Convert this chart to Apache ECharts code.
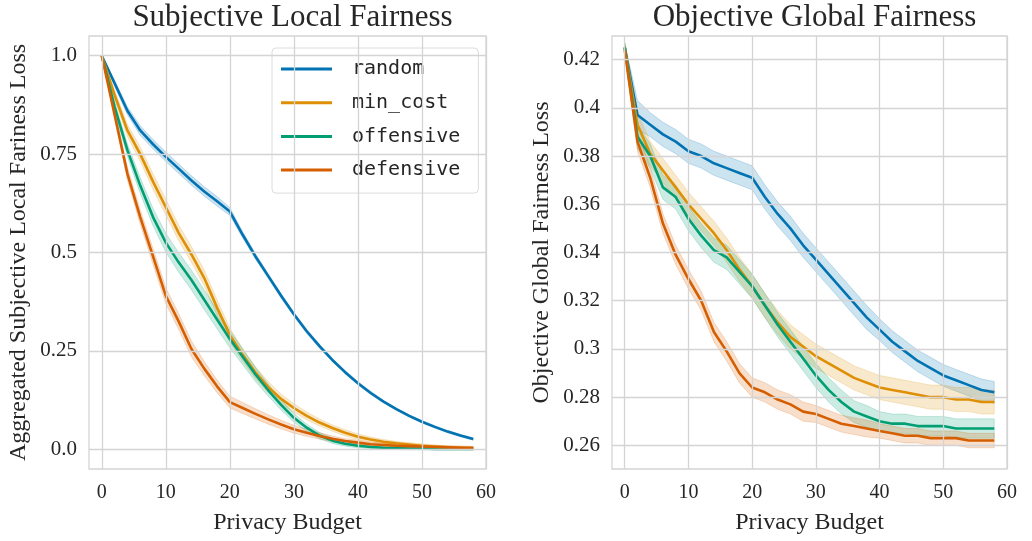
<!DOCTYPE html>
<html>
<head>
<meta charset="utf-8">
<script src="https://cdn.jsdelivr.net/npm/echarts@6/dist/echarts.min.js"></script>
<style>
html, body { margin: 0; background: #fff; }
#chart { width: 1032px; height: 541px; }
</style>
</head>
<body>
<div id="chart"></div>
<script>
var budget = [0,2,4,6,8,10,12,14,16,18,20,22,24,26,28,30,32,34,36,38,40,42,44,46,48,50,52,54,56,58];
var names = ['random', 'min_cost', 'offensive', 'defensive'];
var colors = ['#0173b2', '#de8f05', '#029e73', '#d55e00'];

var xTicks = [0, 10, 20, 30, 40, 50, 60];
var localTicks = [0, 0.25, 0.5, 0.75, 1.0];
var localTickLabels = ['0.0', '0.25', '0.5', '0.75', '1.0'];
var globalTicks = [0.26, 0.28, 0.30, 0.32, 0.34, 0.36, 0.38, 0.40, 0.42];
var globalTickLabels = ['0.26', '0.28', '0.3', '0.32', '0.34', '0.36', '0.38', '0.4', '0.42'];

// Subjective local fairness (left)
var localRandom    = [1.0,0.93,0.86,0.81,0.775,0.743,0.713,0.683,0.655,0.63,0.604,0.545,0.49,0.44,0.39,0.343,0.300,0.262,0.227,0.196,0.168,0.143,0.121,0.102,0.085,0.070,0.057,0.045,0.035,0.026];
var localMinCost   = [1.0,0.90,0.81,0.75,0.68,0.615,0.55,0.495,0.435,0.36,0.29,0.24,0.195,0.158,0.128,0.105,0.085,0.068,0.054,0.042,0.032,0.025,0.019,0.015,0.012,0.009,0.007,0.005,0.004,0.003];
var localOffensive = [1.0,0.87,0.76,0.67,0.59,0.525,0.475,0.43,0.38,0.33,0.28,0.235,0.19,0.15,0.113,0.08,0.055,0.035,0.022,0.014,0.009,0.006,0.004,0.003,0.002,0.002,0.001,0.001,0.001,0.001];
var localDefensive = [1.0,0.85,0.70,0.59,0.49,0.39,0.325,0.255,0.205,0.16,0.12,0.105,0.09,0.076,0.063,0.051,0.042,0.034,0.027,0.021,0.017,0.013,0.011,0.009,0.008,0.007,0.006,0.005,0.004,0.003];

var localRandomSd    = [0,0.008,0.01,0.012,0.012,0.012,0.012,0.012,0.012,0.012,0.01,0.008,0.007,0.006,0.006,0.005,0.005,0.005,0.004,0.004,0.004,0.004,0.003,0.003,0.003,0.003,0.003,0.003,0.003,0.003];
var localMinCostSd   = [0,0.012,0.015,0.018,0.02,0.02,0.02,0.02,0.02,0.02,0.018,0.016,0.015,0.014,0.012,0.011,0.01,0.009,0.008,0.008,0.007,0.006,0.006,0.005,0.005,0.005,0.004,0.004,0.004,0.004];
var localOffensiveSd = [0,0.012,0.016,0.02,0.022,0.024,0.025,0.025,0.025,0.024,0.022,0.02,0.018,0.015,0.013,0.011,0.009,0.008,0.007,0.006,0.005,0.004,0.004,0.003,0.003,0.003,0.003,0.003,0.003,0.003];
var localDefensiveSd = [0,0.012,0.016,0.018,0.02,0.02,0.02,0.02,0.018,0.016,0.015,0.014,0.013,0.012,0.011,0.01,0.009,0.008,0.007,0.006,0.006,0.005,0.005,0.005,0.004,0.004,0.004,0.004,0.004,0.004];

// Objective global fairness (right)
var globalRandom    = [0.425,0.397,0.393,0.389,0.386,0.382,0.380,0.377,0.375,0.373,0.371,0.363,0.356,0.350,0.343,0.337,0.331,0.325,0.319,0.313,0.308,0.303,0.299,0.295,0.292,0.289,0.287,0.285,0.283,0.282];
var globalMinCost   = [0.425,0.393,0.381,0.374,0.367,0.360,0.354,0.348,0.341,0.333,0.326,0.318,0.311,0.305,0.301,0.297,0.294,0.291,0.288,0.286,0.284,0.283,0.282,0.281,0.280,0.280,0.279,0.279,0.278,0.278];
var globalOffensive = [0.425,0.388,0.380,0.367,0.363,0.354,0.347,0.341,0.338,0.332,0.326,0.318,0.310,0.303,0.296,0.289,0.283,0.278,0.274,0.272,0.270,0.269,0.269,0.268,0.268,0.268,0.267,0.267,0.267,0.267];
var globalDefensive = [0.424,0.386,0.371,0.352,0.339,0.329,0.320,0.307,0.299,0.290,0.284,0.282,0.279,0.277,0.274,0.273,0.271,0.269,0.268,0.267,0.266,0.265,0.264,0.264,0.263,0.263,0.263,0.262,0.262,0.262];

var globalRandomSd    = [0.002,0.006,0.005,0.005,0.005,0.005,0.005,0.005,0.005,0.005,0.005,0.005,0.005,0.005,0.005,0.005,0.005,0.005,0.005,0.005,0.0045,0.0045,0.0045,0.0045,0.0045,0.0045,0.0045,0.0045,0.0045,0.0045];
var globalMinCostSd   = [0.002,0.005,0.005,0.005,0.005,0.005,0.005,0.005,0.005,0.005,0.005,0.005,0.005,0.005,0.005,0.005,0.005,0.005,0.005,0.005,0.005,0.005,0.005,0.005,0.005,0.005,0.005,0.005,0.005,0.005];
var globalOffensiveSd = [0.002,0.005,0.005,0.005,0.005,0.005,0.005,0.005,0.005,0.005,0.005,0.005,0.005,0.005,0.005,0.005,0.005,0.005,0.0045,0.0045,0.004,0.004,0.004,0.004,0.004,0.004,0.004,0.004,0.004,0.004];
var globalDefensiveSd = [0.002,0.004,0.004,0.004,0.004,0.004,0.004,0.004,0.004,0.004,0.004,0.004,0.004,0.004,0.004,0.0035,0.0035,0.0035,0.0035,0.0035,0.003,0.003,0.003,0.003,0.003,0.003,0.003,0.003,0.003,0.003];

var localVals = [localRandom, localMinCost, localOffensive, localDefensive];
var localSds = [localRandomSd, localMinCostSd, localOffensiveSd, localDefensiveSd];
var globalVals = [globalRandom, globalMinCost, globalOffensive, globalDefensive];
var globalSds = [globalRandomSd, globalMinCostSd, globalOffensiveSd, globalDefensiveSd];

var serif = 'Liberation Serif';
var textColor = '#262626';
var gridColor = '#d4d4d4';

function bandSeries(gi, color, vals, sd) {
    return {
        type: 'custom',
        xAxisIndex: gi,
        yAxisIndex: gi,
        silent: true,
        z: 2,
        data: [[budget[0], vals[0]]],
        renderItem: function (params, api) {
            var upper = [], lower = [];
            for (var i = 0; i < budget.length; i++) {
                upper.push(api.coord([budget[i], vals[i] + sd[i]]));
                lower.unshift(api.coord([budget[i], vals[i] - sd[i]]));
            }
            return {
                type: 'polygon',
                shape: { points: upper.concat(lower) },
                style: { fill: color, stroke: color, lineWidth: 1, opacity: 0.2 }
            };
        }
    };
}

function lineSeries(gi, name, color, vals) {
    return {
        name: name,
        type: 'line',
        xAxisIndex: gi,
        yAxisIndex: gi,
        symbol: 'none',
        z: 3,
        lineStyle: { width: 2.6, color: color },
        itemStyle: { color: color },
        emphasis: { disabled: true },
        data: budget.map(function (x, i) { return [x, vals[i]]; })
    };
}

function gridLines(gi, yTicks) {
    return {
        type: 'line',
        xAxisIndex: gi,
        yAxisIndex: gi,
        data: [],
        z: 1,
        silent: true,
        markLine: {
            silent: true,
            symbol: ['none', 'none'],
            label: { show: false },
            lineStyle: { color: gridColor, width: 1.3, type: 'solid' },
            emphasis: { disabled: true },
            data: xTicks.map(function (v) { return { xAxis: v }; })
                .concat(yTicks.map(function (v) { return { yAxis: v }; }))
        }
    };
}

function xAxisFor(gi) {
    return {
        type: 'value',
        gridIndex: gi,
        min: -2,
        max: 60,
        splitLine: { show: false },
        axisLine: { show: false },
        axisTick: { show: false },
        axisLabel: {
            customValues: xTicks,
            fontFamily: serif, fontSize: 20, color: textColor, margin: 14
        },
        name: 'Privacy Budget',
        nameLocation: 'middle',
        nameGap: 42,
        nameTextStyle: { fontFamily: serif, fontSize: 24, color: textColor }
    };
}

function yAxisFor(gi, min, max, ticks, labels, name) {
    return {
        type: 'value',
        gridIndex: gi,
        min: min,
        max: max,
        splitLine: { show: false },
        axisLine: { show: false },
        axisTick: { show: false },
        axisLabel: {
            customValues: ticks,
            formatter: function (v) {
                for (var i = 0; i < ticks.length; i++) {
                    if (Math.abs(ticks[i] - v) < 1e-9) return labels[i];
                }
                return '';
            },
            fontFamily: serif, fontSize: 21, color: textColor, margin: 12
        },
        name: name,
        nameLocation: 'middle',
        nameGap: 58,
        nameTextStyle: { fontFamily: serif, fontSize: 24, color: textColor }
    };
}

var series = [gridLines(0, localTicks), gridLines(1, globalTicks)];
for (var k = 0; k < names.length; k++) {
    series.push(bandSeries(0, colors[k], localVals[k], localSds[k]));
    series.push(bandSeries(1, colors[k], globalVals[k], globalSds[k]));
}
for (var k = 0; k < names.length; k++) {
    series.push(lineSeries(0, names[k], colors[k], localVals[k]));
    series.push(lineSeries(1, names[k], colors[k], globalVals[k]));
}

var chart = echarts.init(document.getElementById('chart'));
var option = {
    backgroundColor: '#fff',
    animation: false,
    color: colors,
    title: [
        { text: 'Subjective Local Fairness', left: 287.5, textAlign: 'center', top: -3,
          textStyle: { fontFamily: serif, fontSize: 31, fontWeight: 'normal', color: textColor } },
        { text: 'Objective Global Fairness', left: 809.5, textAlign: 'center', top: -3,
          textStyle: { fontFamily: serif, fontSize: 31, fontWeight: 'normal', color: textColor } }
    ],
    legend: {
        data: names,
        orient: 'vertical',
        left: 272,
        top: 48,
        icon: 'rect',
        itemWidth: 51,
        itemHeight: 3,
        itemGap: 13.7,
        padding: [11, 18, 13, 9],
        backgroundColor: 'rgba(255,255,255,0.85)',
        borderColor: '#dcdcdc',
        borderWidth: 1,
        borderRadius: 4,
        selectedMode: false,
        textStyle: { fontFamily: 'DejaVu Sans Mono', fontSize: 20, color: textColor, padding: [0, 0, 0, 15] }
    },
    grid: [
        { left: 89, right: 546, top: 36, bottom: 72, show: true, borderColor: gridColor, borderWidth: 1.3, backgroundColor: '#fff' },
        { left: 612, right: 25, top: 36, bottom: 72, show: true, borderColor: gridColor, borderWidth: 1.3, backgroundColor: '#fff' }
    ],
    xAxis: [xAxisFor(0), xAxisFor(1)],
    yAxis: [
        yAxisFor(0, -0.05, 1.05, localTicks, localTickLabels, 'Aggregated Subjective Local Fariness Loss'),
        yAxisFor(1, 0.2502, 0.4298, globalTicks, globalTickLabels, 'Objective Global Fairness Loss')
    ],
    series: series
};
chart.setOption(option);
</script>
</body>
</html>
